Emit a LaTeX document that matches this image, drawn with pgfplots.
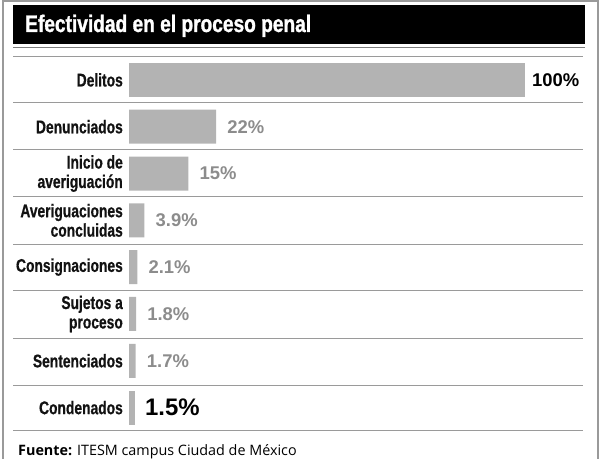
\documentclass[border=0pt]{standalone}
\usepackage{pgfplots}
\pgfplotsset{compat=1.18}
\usepackage{fontspec}
\setmainfont{Liberation Sans}
\newfontfamily\condfont[FakeStretch=0.75, FakeBold=0.6]{Liberation Sans}
\newfontfamily\titlefont[FakeStretch=0.8, FakeBold=1.2]{Liberation Sans}
\newfontfamily\footfont{Open Sans}
\definecolor{barcol}{HTML}{B3B3B3}
\definecolor{valgray}{HTML}{8C8C8C}
\definecolor{sepcol}{HTML}{9A9A9A}
\begin{document}
\begin{tikzpicture}
\begin{scope}[x=1bp,y=1bp]
\path (0,0) rectangle (600,459);
\draw[sepcol, line width=1.3bp] (3,0) -- (3,458) -- (598,458) -- (598,0);
\fill[black] (13,415) rectangle (585,454);
\node[anchor=base west, inner sep=0pt, text=white, font=\titlefont\bfseries\fontsize{24}{24}\selectfont] at (25,427) {Efectividad en el proceso penal};
\draw[sepcol!80!black, line width=1bp] (13,411) -- (585,411);
\draw[sepcol, line width=1bp] (13,402) -- (583,402);
\foreach \py in {103,150,197,245,291,339,386,431}{
  \draw[sepcol, line width=1bp] (13,459-\py) -- (583,459-\py);
}
\node[anchor=base west, inner sep=0pt, font=\footfont\fontsize{14.4}{16}\selectfont] at (18,3) {\textbf{Fuente:} ITESM campus Ciudad de México};
\end{scope}
\begin{axis}[
  at={(129bp,28bp)}, anchor=south west,
  scale only axis, width=396bp, height=374.5bp,
  xmin=0, xmax=100, ymin=-0.5, ymax=7.5, y dir=reverse,
  clip=false,
  axis line style={draw=none}, tick style={draw=none}, major tick length=0pt,
  xtick=\empty,
  ytick={0,1,2,3,4,5,6,7},
  yticklabels={Delitos, Denunciados, {Inicio de\\averiguación}, {Averiguaciones\\concluidas}, Consignaciones, {Sujetos a\\proceso}, Sentenciados, Condenados},
  yticklabel style={align=right, inner sep=0pt, xshift=-6bp, text=black!93, font=\condfont\bfseries\fontsize{18.5}{19.5}\selectfont},
  xbar, bar width=34bp,
  point meta=explicit symbolic,
  nodes near coords,
]
\addplot[fill=barcol, draw=none, bar shift=0pt,
  every node near coord/.append style={anchor=west, inner sep=0pt, xshift=7bp, text=black, font=\bfseries\fontsize{18.5}{20}\selectfont}]
  coordinates {(100,0) [100\%]};
\addplot[fill=barcol, draw=none, bar shift=0pt,
  every node near coord/.append style={anchor=west, inner sep=0pt, xshift=11bp, text=valgray, font=\bfseries\fontsize{18.5}{20}\selectfont}]
  coordinates {(22,1) [22\%] (15,2) [15\%] (3.9,3) [3.9\%] (2.1,4) [2.1\%] (1.8,5) [1.8\%] (1.7,6) [1.7\%]};
\addplot[fill=barcol, draw=none, bar shift=0pt,
  every node near coord/.append style={anchor=west, inner sep=0pt, xshift=10bp, text=black, font=\bfseries\fontsize{24}{24}\selectfont}]
  coordinates {(1.5,7) [1.5\%]};
\end{axis}
\end{tikzpicture}
\end{document}
